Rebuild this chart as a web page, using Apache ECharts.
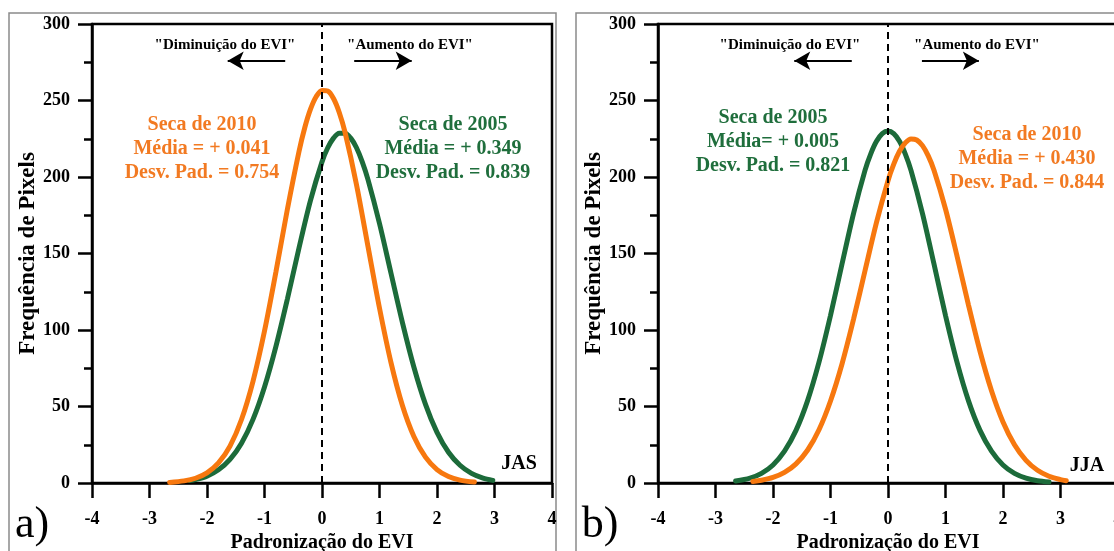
<!DOCTYPE html>
<html>
<head>
<meta charset="utf-8">
<script src="https://cdn.jsdelivr.net/npm/echarts@6/dist/echarts.min.js"></script>
<style>
  html, body { margin: 0; background: #fff; }
  #chart { width: 1114px; height: 551px; }
</style>
</head>
<body>
<div id="chart"></div>
<script>
// JAS (painel a)
const jas2010 = [[-2.65,0.4],[-2.4,1.4],[-2.2,3.1],[-2.0,6.6],[-1.8,13.1],[-1.6,24.1],[-1.4,41.5],[-1.2,66.5],[-1.0,99.3],[-0.8,138.2],[-0.6,179.3],[-0.4,216.7],[-0.3,232.2],[-0.2,244.3],[-0.1,252.6],[0.0,256.6],[0.1,256.2],[0.2,251.3],[0.3,242.2],[0.4,229.3],[0.6,195.0],[0.8,154.6],[1.0,114.3],[1.2,78.7],[1.4,50.5],[1.6,30.2],[1.8,16.9],[2.0,8.8],[2.2,4.2],[2.4,1.9],[2.65,0.6]]
const jas2005 = [[-2.3,1.6],[-2.2,2.3],[-2.0,4.5],[-1.8,8.6],[-1.6,15.4],[-1.4,26.0],[-1.2,41.6],[-1.0,62.8],[-0.8,89.5],[-0.6,120.6],[-0.4,153.6],[-0.2,184.7],[0.0,209.9],[0.1,219.1],[0.2,225.4],[0.3,228.6],[0.4,228.6],[0.5,225.4],[0.6,219.1],[0.7,209.9],[0.8,198.3],[1.0,169.6],[1.2,137.1],[1.4,104.7],[1.6,75.5],[1.8,51.4],[2.0,33.1],[2.2,20.1],[2.4,11.6],[2.6,6.3],[2.8,3.2],[2.97,1.7]]
// JJA (painel b)
const jja2005 = [[-2.65,1.3],[-2.4,3.2],[-2.2,6.3],[-2.0,11.8],[-1.8,20.8],[-1.6,34.4],[-1.4,53.7],[-1.2,79.0],[-1.0,109.5],[-0.8,143.1],[-0.6,176.1],[-0.4,204.3],[-0.3,215.1],[-0.2,223.3],[-0.1,228.3],[0.0,230.0],[0.1,228.3],[0.2,223.3],[0.3,215.1],[0.4,204.3],[0.6,176.1],[0.8,143.1],[1.0,109.5],[1.2,79.0],[1.4,53.7],[1.6,34.4],[1.8,20.8],[2.0,11.8],[2.2,6.3],[2.4,3.2],[2.6,1.5],[2.8,0.7]]
const jja2010 = [[-2.35,1.0],[-2.2,1.8],[-2.0,3.6],[-1.8,6.9],[-1.6,12.5],[-1.4,21.4],[-1.2,34.8],[-1.0,53.6],[-0.8,77.8],[-0.6,106.9],[-0.4,138.7],[-0.2,170.3],[0.0,197.6],[0.1,208.4],[0.2,216.8],[0.3,222.3],[0.4,224.9],[0.5,224.2],[0.6,220.5],[0.7,213.8],[0.8,204.4],[1.0,179.1],[1.2,148.4],[1.4,116.3],[1.6,86.1],[1.8,60.3],[2.0,39.9],[2.2,25.0],[2.4,14.8],[2.6,8.3],[2.8,4.4],[3.0,2.2],[3.1,1.5]]

const txtJas2010 = ['Seca de 2010', 'Média = + 0.041', 'Desv. Pad. = 0.754']
const txtJas2005 = ['Seca de 2005', 'Média = + 0.349', 'Desv. Pad. = 0.839']
const txtJja2005 = ['Seca de 2005', 'Média= + 0.005', 'Desv. Pad. = 0.821']
const txtJja2010 = ['Seca de 2010', 'Média = + 0.430', 'Desv. Pad. = 0.844']

const FONT = 'Liberation Serif, Times New Roman, serif'
const ORANGE = '#f7780f'
const GREEN = '#1c6b3a'
const ORANGE_TXT = '#f27a22'
const GREEN_TXT = '#1f6e3c'

function xAxisOf(i) {
  return {
    type: 'value', gridIndex: i, min: -4, max: 4, interval: 1,
    name: 'Padronização do EVI', nameLocation: 'middle', nameGap: 50,
    nameTextStyle: {fontFamily: FONT, fontWeight: 'bold', fontSize: 20, color: '#000'},
    axisLine: {onZero: false, lineStyle: {color: '#000', width: 2.5}},
    axisTick: {length: 15, lineStyle: {color: '#000', width: 2.5}},
    axisLabel: {margin: 27, color: '#000', fontFamily: FONT, fontWeight: 'bold', fontSize: 18,
      showMinLabel: true, showMaxLabel: true},
    splitLine: {show: false}
  }
}
function yAxisOf(i) {
  return {
    type: 'value', gridIndex: i, min: 0, max: 300, interval: 50,
    name: 'Frequência de Pixels', nameLocation: 'middle', nameGap: 50,
    nameTextStyle: {fontFamily: FONT, fontWeight: 'bold', fontSize: 23, color: '#000'},
    axisLine: {onZero: false, lineStyle: {color: '#000', width: 2.5}},
    axisTick: {length: 14, lineStyle: {color: '#000', width: 2.5}},
    minorTick: {show: true, splitNumber: 2, length: 8, lineStyle: {color: '#000', width: 2.5}},
    axisLabel: {margin: 22, color: '#000', fontFamily: FONT, fontWeight: 'bold', fontSize: 18},
    splitLine: {show: false},
    minorSplitLine: {show: false}
  }
}
function curve(i, data, color, extra) {
  return Object.assign({
    type: 'line', xAxisIndex: i, yAxisIndex: i, data: data,
    smooth: 0.3, showSymbol: false, silent: true,
    lineStyle: {color: color, width: 5, cap: 'round'}
  }, extra || {})
}
const zeroLine = {
  silent: true, symbol: 'none', label: {show: false},
  lineStyle: {color: '#000', type: [7, 5], width: 2},
  data: [{xAxis: 0}]
}
function arrows(l0, l1, r0, r1, y) {
  return {
    silent: true, symbol: ['none', 'arrow'], symbolSize: [14, 16], label: {show: false},
    lineStyle: {color: '#000', type: 'solid', width: 2},
    data: [
      [{coord: [l0, y]}, {coord: [l1, y]}],
      [{coord: [r0, y]}, {coord: [r1, y]}]
    ]
  }
}
function label(x, y, lines, color) {
  return {
    type: 'text', x: x, y: y, z: 100,
    style: {text: lines.join('\n'), fill: color, align: 'center', verticalAlign: 'top',
      font: 'bold 20px ' + FONT, lineHeight: 24}
  }
}
function plain(x, y, text, size, weight) {
  return {
    type: 'text', x: x, y: y, z: 100,
    style: {text: text, fill: '#000', align: 'center', verticalAlign: 'middle',
      font: weight + ' ' + size + 'px ' + FONT}
  }
}

const chart = echarts.init(document.getElementById('chart'))
chart.setOption({
  animation: false,
  backgroundColor: '#fff',
  grid: [
    {left: 92, top: 24, width: 460, height: 459, show: true, borderColor: '#000', borderWidth: 2.5,
      outerBoundsMode: 'none', containLabel: false},
    {left: 658, top: 24, width: 460, height: 459, show: true, borderColor: '#000', borderWidth: 2.5,
      outerBoundsMode: 'none', containLabel: false}
  ],
  xAxis: [xAxisOf(0), xAxisOf(1)],
  yAxis: [yAxisOf(0), yAxisOf(1)],
  series: [
    curve(0, jas2005, GREEN, {markLine: zeroLine}),
    curve(0, jas2010, ORANGE, {markLine: arrows(-0.64, -1.64, 0.56, 1.56, 276)}),
    curve(1, jja2005, GREEN, {markLine: zeroLine}),
    curve(1, jja2010, ORANGE, {markLine: arrows(-0.63, -1.63, 0.59, 1.58, 276)})
  ],
  graphic: [
    {type: 'rect', shape: {x: 9, y: 13, width: 547, height: 600}, z: 0,
      style: {fill: 'none', stroke: '#8a8a8a', lineWidth: 1.5}},
    {type: 'rect', shape: {x: 576, y: 13, width: 600, height: 600}, z: 0,
      style: {fill: 'none', stroke: '#8a8a8a', lineWidth: 1.5}},
    plain(225, 45, '"Diminuição do EVI"', 15, 'bold'),
    plain(410, 45, '"Aumento do EVI"', 15, 'bold'),
    plain(790, 45, '"Diminuição do EVI"', 15, 'bold'),
    plain(977, 45, '"Aumento do EVI"', 15, 'bold'),
    label(202, 113, txtJas2010, ORANGE_TXT),
    label(453, 113, txtJas2005, GREEN_TXT),
    label(773, 106, txtJja2005, GREEN_TXT),
    label(1027, 123, txtJja2010, ORANGE_TXT),
    plain(519, 464, 'JAS', 20, 'bold'),
    plain(1087, 466, 'JJA', 20, 'bold'),
    plain(32, 525, 'a)', 44, 'normal'),
    plain(600, 525, 'b)', 44, 'normal')
  ]
})
</script>
</body>
</html>
